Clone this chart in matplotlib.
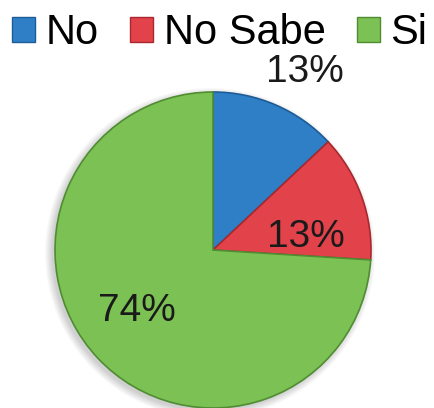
import matplotlib.pyplot as plt
from matplotlib.patches import Patch, Circle

categories = ["No", "No Sabe", "Si"]
values = [13, 13, 74]
colors = ["#2f7fc6", "#e2434b", "#7cc153"]
edge_colors = ["#1d5c96", "#a8282e", "#4f8c32"]

# label anchors in axes pixels (x, y from bottom)
label_pos = [(305, 336), (306, 171), (137, 97)]

fig = plt.figure(figsize=(4.35, 4.08), dpi=100)
ax = fig.add_axes([0, 0, 1, 1])

# soft drop shadow under the pie
for i in range(8):
    ax.add_patch(Circle((210, 155), 158 + i, facecolor="#000000",
                        alpha=0.025, edgecolor="none", zorder=0))

wedges, _ = ax.pie(values, colors=colors, startangle=90, counterclock=False,
                   center=(213, 158), radius=158, frame=True,
                   wedgeprops=dict(linewidth=1.2, zorder=1))
for w, ec in zip(wedges, edge_colors):
    w.set_edgecolor(ec)
ax.set_xlim(0, 435)
ax.set_ylim(0, 408)
ax.axis("off")

for v, (x, y) in zip(values, label_pos):
    ax.text(x, y, f"{v}%", ha="center", va="center", fontsize=28,
            color="#1a1a1a", family="Liberation Sans", zorder=3)

handles = [Patch(facecolor=c, edgecolor=e) for c, e in zip(colors, edge_colors)]
fig.legend(handles, categories, loc="upper center", bbox_to_anchor=(0.505, 1.06),
           ncol=3, frameon=False, handlelength=0.55, handleheight=0.55,
           handletextpad=0.25, columnspacing=0.75,
           prop=dict(family="Liberation Sans", size=30))

fig.savefig("out.png", dpi=100, facecolor="white")
